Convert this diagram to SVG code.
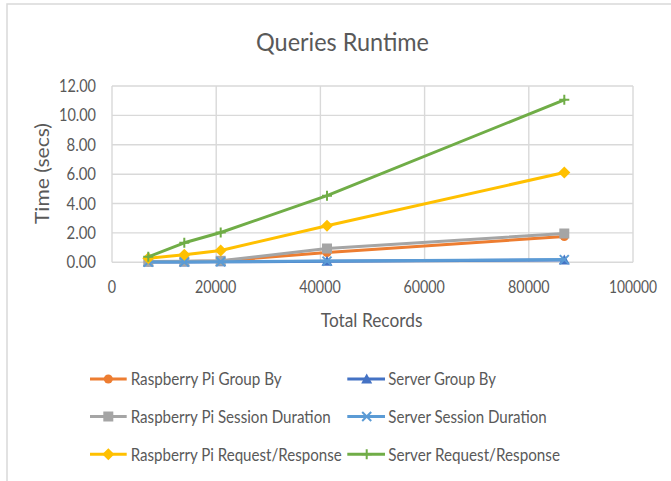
<svg xmlns="http://www.w3.org/2000/svg" width="671" height="481" viewBox="0 0 671 481">
<style>
  text { font-family: Lato, "Liberation Sans", sans-serif; fill: #595959; }
  .grid { stroke: #d9d9d9; stroke-width: 1.4; fill: none; }
  .tick { font-size: 16.8px; }
  .ytick { text-anchor: end; }
  .xtick { text-anchor: middle; }
  .leg { font-size: 17px; }
  .ser { fill: none; stroke-width: 3; stroke-linejoin: round; stroke-linecap: round; }
  .legline { stroke-width: 3; }
</style>
<defs>
  <circle id="mCircle" r="4.5" fill="#ED7D31"/>
  <rect id="mSquare" x="-5" y="-5" width="10" height="10" fill="#A5A5A5"/>
  <path id="mDiamond" d="M0,-6 L6,0 L0,6 L-6,0 Z" fill="#FFC000"/>
  <path id="mTri" d="M0,-5.5 L5.5,4.5 L-5.5,4.5 Z" fill="#4472C4"/>
  <path id="mX" d="M-4.5,-4.5 L4.5,4.5 M-4.5,4.5 L4.5,-4.5" stroke="#5B9BD5" stroke-width="2" fill="none"/>
  <path id="mPlus" d="M-5,0 H5 M0,-5 V5" stroke="#70AD47" stroke-width="2" fill="none"/>
</defs>
<rect x="0" y="0" width="671" height="481" fill="#ffffff"/>
<rect id="frame" x="7" y="4" width="720" height="520" fill="#ffffff" stroke="#d9d9d9" stroke-width="1.5"/>

<g id="title">
  <text x="342.5" y="50.5" font-size="24.5" text-anchor="middle" textLength="173" lengthAdjust="spacingAndGlyphs">Queries Runtime</text>
</g>

<g id="gridlines">
  <path class="grid" d="M112,86 H633 M112,115.4 H633 M112,144.8 H633 M112,174.2 H633 M112,203.5 H633 M112,232.9 H633 M112,262.3 H633"/>
  <path class="grid" d="M112,86 V262.3 M216.2,86 V262.3 M320.4,86 V262.3 M424.6,86 V262.3 M528.8,86 V262.3 M633,86 V262.3"/>
</g>

<g id="y-axis">
  <text class="tick ytick" x="96" y="92" textLength="37" lengthAdjust="spacingAndGlyphs">12.00</text>
  <text class="tick ytick" x="96" y="121.4" textLength="37" lengthAdjust="spacingAndGlyphs">10.00</text>
  <text class="tick ytick" x="96" y="150.8" textLength="29.5" lengthAdjust="spacingAndGlyphs">8.00</text>
  <text class="tick ytick" x="96" y="180.2" textLength="29.5" lengthAdjust="spacingAndGlyphs">6.00</text>
  <text class="tick ytick" x="96" y="209.5" textLength="29.5" lengthAdjust="spacingAndGlyphs">4.00</text>
  <text class="tick ytick" x="96" y="238.9" textLength="29.5" lengthAdjust="spacingAndGlyphs">2.00</text>
  <text class="tick ytick" x="96" y="268.3" textLength="29.5" lengthAdjust="spacingAndGlyphs">0.00</text>
  <text x="49" y="173.5" font-size="19.5" text-anchor="middle" transform="rotate(-90 49 173.5)" textLength="101" lengthAdjust="spacingAndGlyphs">Time (secs)</text>
</g>

<g id="x-axis">
  <text class="tick xtick" x="112" y="293.3" textLength="8.3" lengthAdjust="spacingAndGlyphs">0</text>
  <text class="tick xtick" x="215.6" y="293.3" textLength="41.4" lengthAdjust="spacingAndGlyphs">20000</text>
  <text class="tick xtick" x="320" y="293.3" textLength="41.4" lengthAdjust="spacingAndGlyphs">40000</text>
  <text class="tick xtick" x="424.2" y="293.3" textLength="41.4" lengthAdjust="spacingAndGlyphs">60000</text>
  <text class="tick xtick" x="528.8" y="293.3" textLength="41.4" lengthAdjust="spacingAndGlyphs">80000</text>
  <text class="tick xtick" x="633" y="293.3" textLength="48" lengthAdjust="spacingAndGlyphs">100000</text>
  <text x="371.6" y="327.3" font-size="19.5" text-anchor="middle" textLength="101.6" lengthAdjust="spacingAndGlyphs">Total Records</text>
</g>

<g id="series">
  <g id="rp-group-by">
    <polyline class="ser" stroke="#ED7D31" points="148.3,261.8 184.3,261.5 220.7,261 327,252.5 564.3,236.5"/>
    <use href="#mCircle" x="148.3" y="261.8"/><use href="#mCircle" x="184.3" y="261.5"/><use href="#mCircle" x="220.7" y="261"/><use href="#mCircle" x="327" y="252.5"/><use href="#mCircle" x="564.3" y="236.5"/>
  </g>
  <g id="server-group-by">
    <polyline class="ser" stroke="#4472C4" points="148.3,262 184.3,261.9 220.7,261.8 327,261.3 564.3,259.9"/>
    <use href="#mTri" x="148.3" y="262"/><use href="#mTri" x="184.3" y="261.9"/><use href="#mTri" x="220.7" y="261.8"/><use href="#mTri" x="327" y="261.3"/><use href="#mTri" x="564.3" y="259.9"/>
  </g>
  <g id="rp-session-duration">
    <polyline class="ser" stroke="#A5A5A5" points="148.3,261.6 184.3,261.3 220.7,260.8 327,248.5 564.3,233.5"/>
    <use href="#mSquare" x="148.3" y="261.6"/><use href="#mSquare" x="184.3" y="261.3"/><use href="#mSquare" x="220.7" y="260.8"/><use href="#mSquare" x="327" y="248.5"/><use href="#mSquare" x="564.3" y="233.5"/>
  </g>
  <g id="server-session-duration">
    <polyline class="ser" stroke="#5B9BD5" points="148.3,262.1 184.3,262 220.7,261.8 327,261.1 564.3,259.6"/>
    <use href="#mX" x="148.3" y="262.1"/><use href="#mX" x="184.3" y="262"/><use href="#mX" x="220.7" y="261.8"/><use href="#mX" x="327" y="261.1"/><use href="#mX" x="564.3" y="259.6"/>
  </g>
  <g id="rp-request-response">
    <polyline class="ser" stroke="#FFC000" points="148.3,258.2 184.3,254.8 220.7,250.5 327,225.7 564.3,172.5"/>
    <use href="#mDiamond" x="148.3" y="258.2"/><use href="#mDiamond" x="184.3" y="254.8"/><use href="#mDiamond" x="220.7" y="250.5"/><use href="#mDiamond" x="327" y="225.7"/><use href="#mDiamond" x="564.3" y="172.5"/>
  </g>
  <g id="server-request-response">
    <polyline class="ser" stroke="#70AD47" points="148.3,256.8 184.3,242.8 220.7,232.5 327,195.7 564.3,99.8"/>
    <use href="#mPlus" x="148.3" y="256.8"/><use href="#mPlus" x="184.3" y="242.8"/><use href="#mPlus" x="220.7" y="232.5"/><use href="#mPlus" x="327" y="195.7"/><use href="#mPlus" x="564.3" y="99.8"/>
  </g>
</g>

<g id="legend">
  <g id="leg-rp-group-by">
    <line class="legline" x1="90" y1="379" x2="126.7" y2="379" stroke="#ED7D31"/>
    <use href="#mCircle" x="108.3" y="379"/>
    <text class="leg" x="130.7" y="385" textLength="151" lengthAdjust="spacingAndGlyphs">Raspberry Pi Group By</text>
  </g>
  <g id="leg-server-group-by">
    <line class="legline" x1="347.3" y1="379" x2="385" y2="379" stroke="#4472C4"/>
    <use href="#mTri" x="366.7" y="379"/>
    <text class="leg" x="388.3" y="385" textLength="107.7" lengthAdjust="spacingAndGlyphs">Server Group By</text>
  </g>
  <g id="leg-rp-session-duration">
    <line class="legline" x1="90" y1="416.5" x2="126.7" y2="416.5" stroke="#A5A5A5"/>
    <use href="#mSquare" x="108.3" y="416.5"/>
    <text class="leg" x="130.7" y="422.5" textLength="200" lengthAdjust="spacingAndGlyphs">Raspberry Pi Session Duration</text>
  </g>
  <g id="leg-server-session-duration">
    <line class="legline" x1="347.3" y1="416.5" x2="385" y2="416.5" stroke="#5B9BD5"/>
    <use href="#mX" x="366.7" y="416.5"/>
    <text class="leg" x="388.3" y="422.5" textLength="158.4" lengthAdjust="spacingAndGlyphs">Server Session Duration</text>
  </g>
  <g id="leg-rp-request-response">
    <line class="legline" x1="90" y1="454.3" x2="126.7" y2="454.3" stroke="#FFC000"/>
    <use href="#mDiamond" x="108.3" y="454.3"/>
    <text class="leg" x="130.7" y="460.5" textLength="211" lengthAdjust="spacingAndGlyphs">Raspberry Pi Request/Response</text>
  </g>
  <g id="leg-server-request-response">
    <line class="legline" x1="347.3" y1="454.3" x2="385" y2="454.3" stroke="#70AD47"/>
    <use href="#mPlus" x="366.7" y="454.3"/>
    <text class="leg" x="388.3" y="460.5" textLength="171.7" lengthAdjust="spacingAndGlyphs">Server Request/Response</text>
  </g>
</g>
</svg>
